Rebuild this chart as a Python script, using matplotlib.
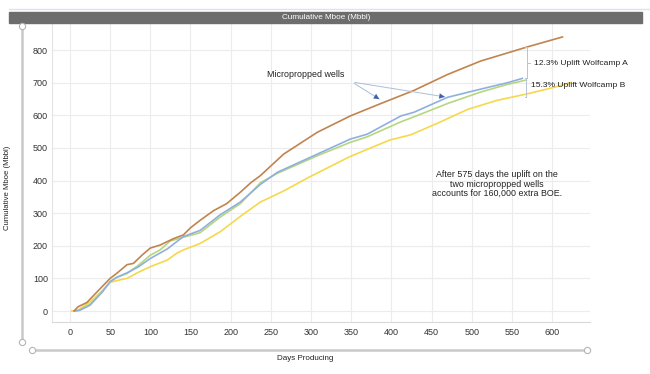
import matplotlib.pyplot as plt
from matplotlib.patches import Rectangle
from matplotlib.lines import Line2D

plt.rcParams['font.family'] = ['Liberation Sans', 'DejaVu Sans']

# --- Data: days producing vs cumulative Mboe ---
# brown (micropropped, Wolfcamp A)
mp_a_days = [5, 10, 21, 35, 50, 58, 71, 79, 90, 100, 112, 129, 141, 150, 162, 179, 195,
             212, 225, 237, 266, 308, 349, 387, 428, 470, 511, 570, 613]
mp_a_vals = [0, 13, 26, 62, 100, 115, 142, 146, 172, 193, 202, 222, 233, 255, 278, 308, 329,
             364, 393, 415, 481, 548, 598, 636, 676, 725, 766, 810, 840]

# blue (micropropped, Wolfcamp B)
mp_b_days = [6, 12, 25, 40, 50, 58, 71, 85, 100, 121, 141, 162, 187, 212, 237, 258, 308,
             349, 370, 412, 428, 470, 511, 545, 563]
mp_b_vals = [0, 2, 18, 58, 90, 103, 117, 135, 161, 190, 228, 247, 295, 334, 388, 425, 481,
             527, 542, 598, 609, 655, 680, 700, 713]

# green
base_a_days = [6, 12, 25, 40, 50, 58, 71, 85, 100, 112, 125, 141, 162, 187, 212, 237, 258,
               308, 349, 370, 412, 428, 470, 511, 545, 568]
base_a_vals = [0, 3, 21, 58, 90, 103, 115, 140, 171, 187, 215, 226, 240, 288, 329, 393, 422,
               476, 517, 534, 580, 595, 636, 671, 695, 708]

# yellow
base_b_days = [2, 10, 25, 40, 50, 58, 71, 87, 100, 121, 133, 141, 162, 187, 212, 237, 266,
               299, 349, 398, 424, 457, 495, 532, 570, 600, 624]
base_b_vals = [0, 3, 28, 62, 88, 93, 100, 121, 136, 156, 177, 187, 207, 243, 290, 334, 368,
               412, 474, 524, 540, 575, 618, 646, 666, 684, 700]

x_ticks = list(range(0, 601, 50))
y_ticks = list(range(0, 801, 100))

note_text = "After 575 days the uplift on the\ntwo micropropped wells\naccounts for 160,000 extra BOE."

W, H = 650, 374


def fx(px):
    return px / W


def fy(py):
    return 1 - py / H


fig = plt.figure(figsize=(6.5, 3.74), dpi=100)
ax = fig.add_axes([fx(52), fy(322), 538 / W, 299 / H])

# --- Lines ---
ax.plot(base_b_days, base_b_vals, color="#f6d84c", lw=1.2)
ax.plot(base_a_days, base_a_vals, color="#b6d67f", lw=1.2)
ax.plot(mp_b_days, mp_b_vals, color="#8fb0de", lw=1.2)
ax.plot(mp_a_days, mp_a_vals, color="#c1844f", lw=1.2)

ax.set_xlim(-22.4, 647.3)
ax.set_ylim(-33.7, 882.8)
ax.set_xticks(x_ticks)
ax.set_yticks(y_ticks)
ax.tick_params(length=0, labelsize=6.5, colors="#333333")
ax.tick_params(axis="y", pad=3)
ax.tick_params(axis="x", pad=4)
ax.grid(color="#ececec", lw=0.8)
ax.set_axisbelow(True)
for side in ["top", "right"]:
    ax.spines[side].set_visible(False)
ax.spines["left"].set_color("#e4e4e4")
ax.spines["bottom"].set_color("#d9d9d9")

# --- Annotations ---
ax.text(294, 726, "Micropropped wells", fontsize=6.4, ha="center", va="center", color="#222222")
for tx, ty in [(388, 645), (470, 655)]:
    # thin light leader line, then a small dark head at the end
    ax.annotate("", xy=(tx, ty), xytext=(351, 702),
                arrowprops=dict(arrowstyle="-", color="#a9bfdc", lw=0.7))
    ax.annotate("", xy=(tx, ty), xytext=(351, 702),
                arrowprops=dict(arrowstyle="-|>,head_length=0.5,head_width=0.25",
                                color="#3f63a8", lw=0, mutation_scale=8))

# brackets for the uplift
br = "#b9c3d3"
ax.plot([569, 569], [810, 714], color=br, lw=0.7)
ax.plot([569, 572], [760, 760], color=br, lw=0.7)
ax.plot([567, 569], [810, 810], color=br, lw=0.7)
ax.plot([567, 569], [714, 714], color=br, lw=0.7)
ax.plot([568, 568], [714, 657], color=br, lw=0.7)
ax.plot([566, 568], [657, 657], color=br, lw=0.7)
ax.text(577, 760, "12.3% Uplift Wolfcamp A", fontsize=6.1, va="center", color="#222222")
ax.text(574, 690, "15.3% Uplift Wolfcamp B", fontsize=6.1, va="center", color="#222222")

ax.text(531, 389, note_text, fontsize=6.4, ha="center", va="center", linespacing=1.05,
        color="#222222")

# --- Title bar and axis labels ---
fig.add_artist(Line2D([fx(9), fx(650)], [fy(9), fy(9)], color="#d8e4f0", lw=1))
fig.add_artist(Rectangle((fx(9), fy(23)), (642 - 9) / W, 11 / H, color="#6d6d6d",
                         transform=fig.transFigure))
fig.text(fx(326), fy(17.5), "Cumulative Mboe (Mbbl)", color="white", fontsize=5.9,
         ha="center", va="center")
fig.text(fx(8), fy(188), "Cumulative Mboe (Mbbl)", rotation=90, fontsize=5.6,
         ha="center", va="center", color="#222222")
fig.text(fx(305), fy(358), "Days Producing", fontsize=5.8, ha="center", va="center",
         color="#222222")

# --- Range sliders ---
fig.add_artist(Line2D([fx(22), fx(22)], [fy(26), fy(342)], color="#c9c9c9", lw=1.8))
fig.add_artist(Line2D([fx(32), fx(587)], [fy(350), fy(350)], color="#c9c9c9", lw=1.8))
for px, py in [(22, 26), (22, 342), (32, 350), (587, 350)]:
    fig.add_artist(Line2D([fx(px)], [fy(py)], marker="o", markersize=4.5,
                          markerfacecolor="white", markeredgecolor="#b5b5b5", markeredgewidth=0.8))

fig.savefig("out.png", dpi=100)
